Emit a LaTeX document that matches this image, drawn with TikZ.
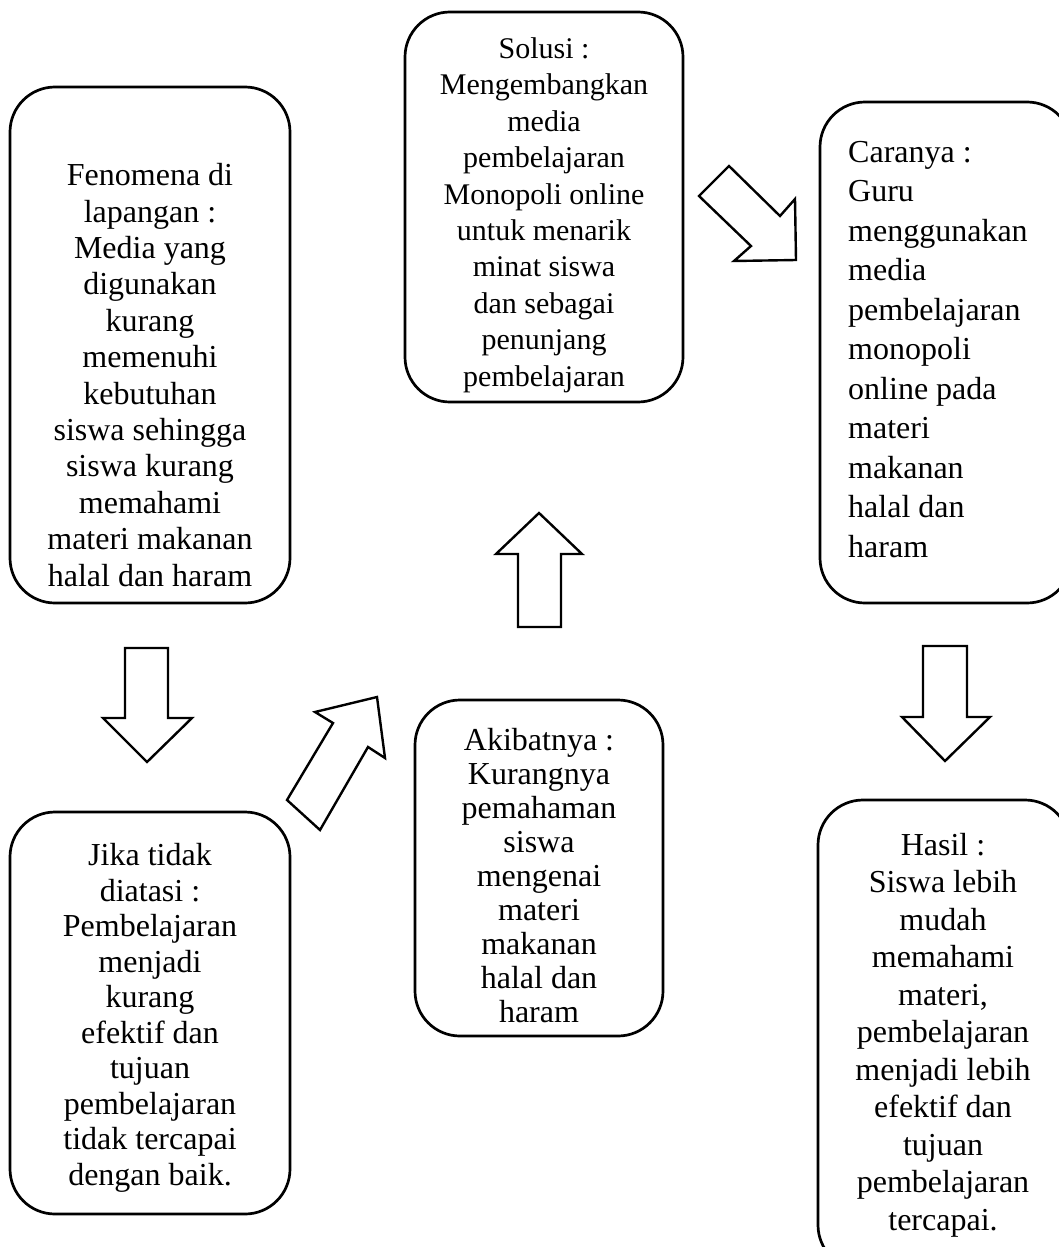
\documentclass[tikz,border=0pt]{standalone}
\usepackage{fontspec}
\setmainfont{Liberation Serif}
\newfontfamily\tnr{Liberation Serif}
\begin{document}
\begin{tikzpicture}[x=1pt,y=-1pt,
  box/.style={draw=black,line width=2.7pt,rounded corners=45pt,inner sep=0pt},
  txt/.style={align=center,inner sep=0pt,anchor=base},
  txtl/.style={align=left,inner sep=0pt,anchor=base west},
  blk/.style={draw=black,line width=2.4pt,fill=white,line join=miter}]
\useasboundingbox (0,0) rectangle (1058,1247);
% boxes
\node[box,minimum width=280pt,minimum height=516pt] (b1) at (150,345) {};
\node[box,minimum width=278pt,minimum height=390pt] (b2) at (544,207) {};
\node[box,minimum width=252pt,minimum height=501pt] (b3) at (946,352.5) {};
\node[box,minimum width=280pt,minimum height=402pt] (b4) at (150,1013) {};
\node[box,minimum width=248pt,minimum height=336pt] (b5) at (539,868) {};
\node[box,minimum width=252pt,minimum height=470pt] (b6) at (944,1035) {};
% texts (anchor at the baseline of the last line)
\node[txt,font=\tnr\fontsize{32}{36.4}\selectfont] (t1) at (150,586) {Fenomena di\\lapangan :\\Media yang\\digunakan\\kurang\\memenuhi\\kebutuhan\\siswa sehingga\\siswa kurang\\memahami\\materi makanan\\halal dan haram};
\node[txt,font=\tnr\fontsize{30}{36.4}\selectfont] (t2) at (544,386) {Solusi :\\Mengembangkan\\media\\pembelajaran\\Monopoli online\\untuk menarik\\minat siswa\\dan sebagai\\penunjang\\pembelajaran};
\node[txtl,font=\tnr\fontsize{32}{39.5}\selectfont] (t3) at (848,557) {Caranya :\\Guru\\menggunakan\\media\\pembelajaran\\monopoli\\online pada\\materi\\makanan\\halal dan\\haram};
\node[txt,font=\tnr\fontsize{32}{35.5}\selectfont] (t4) at (150,1185) {Jika tidak\\diatasi :\\Pembelajaran\\menjadi\\kurang\\efektif dan\\tujuan\\pembelajaran\\tidak tercapai\\dengan baik.};
\node[txt,font=\tnr\fontsize{32}{34}\selectfont] (t5) at (539,1022) {Akibatnya :\\Kurangnya\\pemahaman\\siswa\\mengenai\\materi\\makanan\\halal dan\\haram};
\node[txt,font=\tnr\fontsize{32}{37.5}\selectfont] (t6) at (943,1230) {Hasil :\\Siswa lebih\\mudah\\memahami\\materi,\\pembelajaran\\menjadi lebih\\efektif dan\\tujuan\\pembelajaran\\tercapai.};
% block arrows
\draw[blk] (125,648) -- (168,648) -- (168,718) -- (192,718) -- (147,762) -- (103,718) -- (125,718) -- cycle;
\draw[blk] (518,627) -- (561,627) -- (561,554) -- (582,554) -- (539,513) -- (496,554) -- (518,554) -- cycle;
\draw[blk] (923,646) -- (967,646) -- (967,717) -- (990,717) -- (945,761) -- (902,717) -- (923,717) -- cycle;
\draw[blk] (729,166) -- (780,216) -- (795,199) -- (796,260) -- (734,261) -- (751,246) -- (699,196) -- cycle;
\draw[blk] (287,800) -- (333,723) -- (315,712) -- (377,697) -- (385,758) -- (368,747) -- (320,830) -- cycle;
\end{tikzpicture}
\end{document}
